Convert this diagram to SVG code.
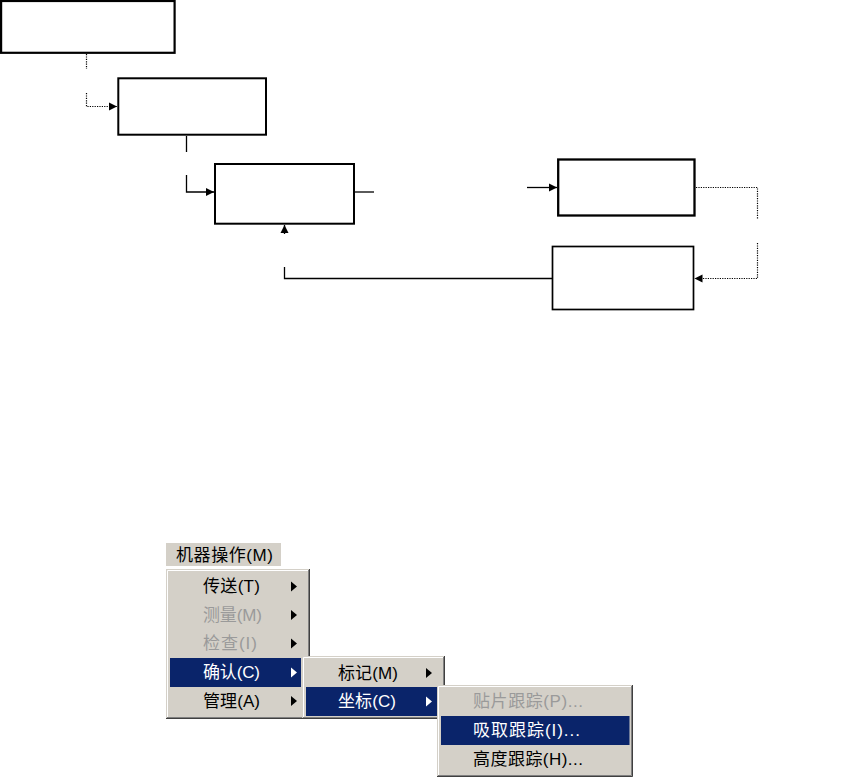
<svg xmlns="http://www.w3.org/2000/svg" width="852" height="778" viewBox="0 0 852 778">
<style>
.box{fill:#fff;stroke:#000}
.ln{fill:none;stroke:#000;stroke-width:1.3}
.dot{fill:none;stroke:#000;stroke-width:1.2;stroke-dasharray:1.2 1.2}
.mbg{fill:#d4d0c8}
.hl{fill:#0a246a}
.t{font-family:'Liberation Sans','Noto Sans CJK SC',sans-serif;font-size:17px;fill:#000;dominant-baseline:central}
.dis{fill:#9a9a9a}
.wt{fill:#fff}
.lt{stroke:#fff;stroke-width:1;fill:none}
.dk{stroke:#808080;stroke-width:1;fill:none}
.dd{stroke:#404040;stroke-width:1;fill:none}
.ar{fill:#000}
.arw{fill:#fff}
</style>
<defs>
<marker id="ah" markerUnits="userSpaceOnUse" markerWidth="9" markerHeight="9" refX="8" refY="4" orient="auto" overflow="visible">
<path d="M0,0 L8,4 L0,8 z" fill="#000"/>
</marker>
</defs>
<rect width="852" height="778" fill="#fff"/>

<g id="node1"><rect class="box" x="1.1" y="1" width="173.5" height="51.8" stroke-width="2.2"/></g>
<g id="node2"><rect class="box" x="118.3" y="78.3" width="147.7" height="56.4" stroke-width="2"/></g>
<g id="node3"><rect class="box" x="215" y="164" width="139" height="59.7" stroke-width="2"/></g>
<g id="node4"><rect class="box" x="558.2" y="159.5" width="136.3" height="56" stroke-width="2.3"/></g>
<g id="node5"><rect class="box" x="552.5" y="246.5" width="141" height="63" stroke-width="1.7"/></g>

<g id="connectors">
<path class="dot" d="M86.5,54 V69"/>
<path class="dot" d="M86.5,93 V106.5 H117" marker-end="url(#ah)"/>
<path class="ln" d="M186.5,136 V152"/>
<path class="ln" d="M186.5,175 V192 H214" marker-end="url(#ah)"/>
<path class="ln" d="M355,192 H374"/>
<path class="ln" d="M527,187.5 H557" marker-end="url(#ah)"/>
<path class="dot" d="M696,187.5 H757.5 V219"/>
<path class="dot" d="M757.5,243 V278.5 H694.5" marker-end="url(#ah)"/>
<path class="ln" d="M552,278.5 H284.5 V267"/>
<path class="ln" d="M284.5,234 V225" marker-end="url(#ah)"/>
</g>

<g id="menubar">
<rect class="mbg" x="166" y="543" width="115" height="23"/>
<path class="lt" d="M166,567.5 H281.5 M281.5,543 V567"/>
<text class="t" x="176" y="555" textLength="97" lengthAdjust="spacing">机器操作(M)</text>
</g>

<g id="menu1">
<rect class="mbg" x="166" y="569" width="144" height="150"/>
<path class="lt" d="M167.5,718 V570.5 H308"/>
<path class="dk" d="M308.5,570 V717.5 H167"/>
<path class="dd" d="M309.5,569 V718.5 H166"/>
<rect class="hl" x="170" y="658" width="131" height="29"/>
<text class="t" x="203" y="586.5" textLength="57" lengthAdjust="spacing">传送(T)</text>
<text class="t dis" x="203" y="615" textLength="59" lengthAdjust="spacing">测量(M)</text>
<text class="t dis" x="203" y="643.5" textLength="54" lengthAdjust="spacing">检查(I)</text>
<text class="t wt" x="203" y="672.5" textLength="57" lengthAdjust="spacing">确认(C)</text>
<text class="t" x="203" y="701" textLength="57" lengthAdjust="spacing">管理(A)</text>
<path class="ar" d="M291,581.5 L297,586.5 L291,591.5 z"/>
<path class="ar" d="M291,610 L297,615 L291,620 z"/>
<path class="ar" d="M291,638.5 L297,643.5 L291,648.5 z"/>
<path class="arw" d="M291,667.5 L297,672.5 L291,677.5 z"/>
<path class="ar" d="M291,696 L297,701 L291,706 z"/>
</g>

<g id="menu2">
<rect class="mbg" x="302" y="656" width="143" height="63"/>
<path class="lt" d="M303.5,718 V657.5 H443"/>
<path class="dk" d="M443.5,657 V717.5 H303"/>
<path class="dd" d="M444.5,656 V718.5 H302"/>
<rect class="hl" x="306" y="687" width="134" height="29"/>
<text class="t" x="338" y="673" textLength="60" lengthAdjust="spacing">标记(M)</text>
<text class="t wt" x="338" y="701.5" textLength="58" lengthAdjust="spacing">坐标(C)</text>
<path class="ar" d="M426,668 L432,673 L426,678 z"/>
<path class="arw" d="M426,696.5 L432,701.5 L426,706.5 z"/>
</g>

<g id="menu3">
<rect class="mbg" x="437" y="685" width="196" height="92"/>
<path class="lt" d="M438.5,776 V686.5 H631"/>
<path class="dk" d="M631.5,686 V775.5 H438"/>
<path class="dd" d="M632.5,685 V776.5 H437"/>
<rect class="hl" x="441" y="716" width="188.5" height="29"/>
<text class="t dis" x="473" y="701.5" textLength="110" lengthAdjust="spacing">贴片跟踪(P)...</text>
<text class="t wt" x="473" y="730.5" textLength="107" lengthAdjust="spacing">吸取跟踪(I)...</text>
<text class="t" x="473" y="759.5" textLength="110" lengthAdjust="spacing">高度跟踪(H)...</text>
</g>
</svg>
